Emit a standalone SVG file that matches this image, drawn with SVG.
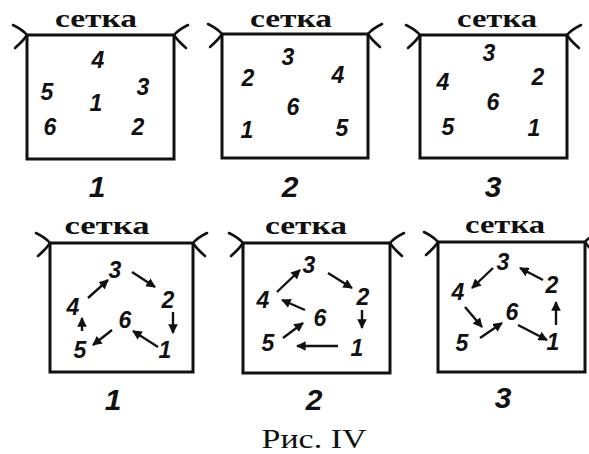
<svg xmlns="http://www.w3.org/2000/svg" width="589" height="454" viewBox="0 0 589 454">
  <style>
    .frame { fill: none; stroke: #111; stroke-width: 3; }
    .hook { fill: none; stroke: #111; stroke-width: 2.6; stroke-linecap: round; }
    .title { font-family: "Liberation Serif", serif; font-weight: bold; font-size: 25px; fill: #111; text-anchor: middle; }
    .num { font-family: "Liberation Sans", Arial, sans-serif; font-weight: bold; font-style: italic; font-size: 23px; fill: #111; text-anchor: middle; }
    .lbl { font-family: "Liberation Sans", Arial, sans-serif; font-weight: bold; font-style: italic; font-size: 30px; fill: #111; text-anchor: middle; }
    .cap { font-family: "Liberation Serif", serif; font-size: 27px; fill: #111; text-anchor: middle; }
    .arr { stroke: #111; stroke-width: 2.4; fill: none; marker-end: url(#ah); }
  </style>
  <defs>
    <marker id="ah" viewBox="0 0 10 10" refX="9" refY="5" markerWidth="4" markerHeight="4" orient="auto" markerUnits="strokeWidth">
      <path d="M0,0 L10,5 L0,10 z" fill="#111"/>
    </marker>
    <!-- corner hook, tip at the frame corner -->
    <path id="hookL" class="hook" d="M-14,-10 Q-4,-5 0,0 Q-3,5 -12,13"/>
    <path id="hookR" class="hook" d="M14,-10 Q4,-5 0,0 Q3,5 12,13"/>
  </defs>
  <rect width="589" height="454" fill="#fff"/>

  <!-- top row -->
  <g id="top1">
    <text class="title" x="96" y="27" textLength="82" lengthAdjust="spacingAndGlyphs">сетка</text>
    <rect class="frame" x="27" y="35" width="147" height="124"/>
    <use href="#hookL" x="27" y="35"/>
    <use href="#hookR" x="174" y="35"/>
    <text class="num" x="98" y="68">4</text>
    <text class="num" x="47" y="100">5</text>
    <text class="num" x="143" y="95">3</text>
    <text class="num" x="96" y="111">1</text>
    <text class="num" x="50" y="135">6</text>
    <text class="num" x="138" y="135">2</text>
    <text class="lbl" x="97" y="197">1</text>
  </g>
  <g id="top2">
    <text class="title" x="291" y="27" textLength="82" lengthAdjust="spacingAndGlyphs">сетка</text>
    <rect class="frame" x="222" y="34" width="146" height="124"/>
    <use href="#hookL" x="222" y="34"/>
    <use href="#hookR" x="368" y="34"/>
    <text class="num" x="288" y="65">3</text>
    <text class="num" x="248" y="86">2</text>
    <text class="num" x="338" y="83">4</text>
    <text class="num" x="293" y="115">6</text>
    <text class="num" x="247" y="138">1</text>
    <text class="num" x="342" y="136">5</text>
    <text class="lbl" x="290" y="197">2</text>
  </g>
  <g id="top3">
    <text class="title" x="497" y="27" textLength="80" lengthAdjust="spacingAndGlyphs">сетка</text>
    <rect class="frame" x="420" y="35" width="147" height="123"/>
    <use href="#hookL" x="420" y="35"/>
    <use href="#hookR" x="567" y="35"/>
    <text class="num" x="489" y="61">3</text>
    <text class="num" x="443" y="90">4</text>
    <text class="num" x="538" y="85">2</text>
    <text class="num" x="493" y="110">6</text>
    <text class="num" x="448" y="135">5</text>
    <text class="num" x="534" y="136">1</text>
    <text class="lbl" x="493" y="197">3</text>
  </g>

  <!-- bottom row -->
  <g id="bot1">
    <text class="title" x="107" y="234" textLength="85" lengthAdjust="spacingAndGlyphs">сетка</text>
    <rect class="frame" x="50" y="243" width="143" height="129"/>
    <use href="#hookL" x="50" y="243"/>
    <use href="#hookR" x="193" y="243"/>
    <text class="num" x="115" y="278">3</text>
    <text class="num" x="168" y="308">2</text>
    <text class="num" x="73" y="315">4</text>
    <text class="num" x="125" y="328">6</text>
    <text class="num" x="80" y="358">5</text>
    <text class="num" x="165" y="358">1</text>
    <text class="lbl" x="113" y="410">1</text>
  </g>
  <g id="bot2">
    <text class="title" x="306" y="234" textLength="82" lengthAdjust="spacingAndGlyphs">сетка</text>
    <rect class="frame" x="243" y="243" width="147" height="130"/>
    <use href="#hookL" x="243" y="243"/>
    <use href="#hookR" x="390" y="243"/>
    <text class="num" x="309" y="273">3</text>
    <text class="num" x="363" y="305">2</text>
    <text class="num" x="263" y="308">4</text>
    <text class="num" x="320" y="326">6</text>
    <text class="num" x="268" y="351">5</text>
    <text class="num" x="357" y="356">1</text>
    <text class="lbl" x="314" y="410">2</text>
  </g>
  <g id="bot3">
    <text class="title" x="505" y="233" textLength="80" lengthAdjust="spacingAndGlyphs">сетка</text>
    <rect class="frame" x="438" y="242" width="147" height="130"/>
    <use href="#hookL" x="438" y="242"/>
    <use href="#hookR" x="585" y="242"/>
    <text class="num" x="503" y="270">3</text>
    <text class="num" x="552" y="293">2</text>
    <text class="num" x="458" y="300">4</text>
    <text class="num" x="512" y="320">6</text>
    <text class="num" x="462" y="351">5</text>
    <text class="num" x="553" y="350">1</text>
    <text class="lbl" x="503" y="408">3</text>
  </g>

  <!-- connectors -->
  <g id="connectors">
    <!-- panel 1 -->
    <line class="arr" x1="88" y1="298" x2="108" y2="280"/>
    <line class="arr" x1="132" y1="272" x2="155" y2="287"/>
    <line class="arr" x1="173" y1="312" x2="173" y2="333"/>
    <line class="arr" x1="158" y1="347" x2="133" y2="331"/>
    <line class="arr" x1="112" y1="330" x2="93" y2="345"/>
    <line class="arr" x1="82" y1="331" x2="82" y2="318"/>
    <!-- panel 2 -->
    <line class="arr" x1="277" y1="292" x2="300" y2="270"/>
    <line class="arr" x1="328" y1="273" x2="352" y2="288"/>
    <line class="arr" x1="362" y1="310" x2="362" y2="328"/>
    <line class="arr" x1="305" y1="310" x2="282" y2="300"/>
    <line class="arr" x1="283" y1="338" x2="303" y2="323"/>
    <line class="arr" x1="338" y1="346" x2="297" y2="346"/>
    <!-- panel 3 -->
    <line class="arr" x1="493" y1="268" x2="472" y2="288"/>
    <line class="arr" x1="543" y1="280" x2="520" y2="268"/>
    <line class="arr" x1="556" y1="325" x2="556" y2="302"/>
    <line class="arr" x1="465" y1="307" x2="482" y2="327"/>
    <line class="arr" x1="480" y1="338" x2="502" y2="323"/>
    <line class="arr" x1="518" y1="325" x2="547" y2="340"/>
  </g>

  <text class="cap" x="314" y="448" textLength="105" lengthAdjust="spacingAndGlyphs">Рис. IV</text>
</svg>
